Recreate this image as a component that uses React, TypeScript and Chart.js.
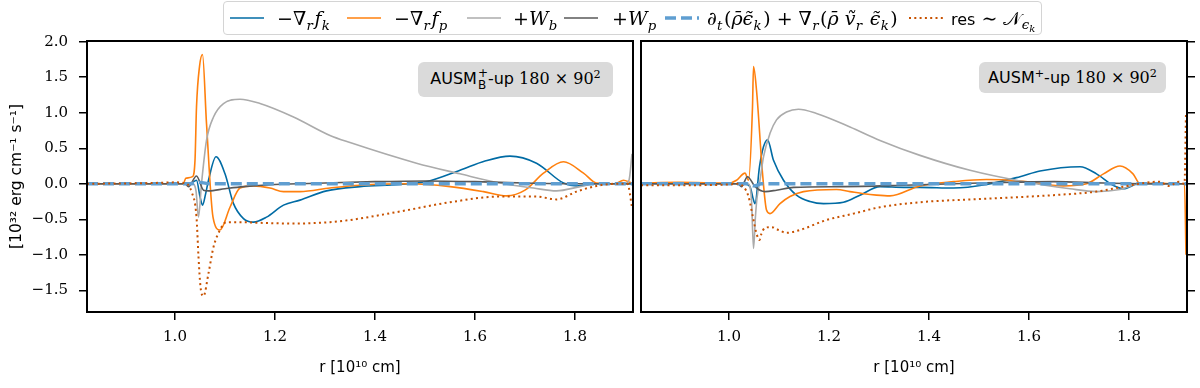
import React, { useEffect, useRef } from "react";
import { Chart, registerables } from "chart.js";

Chart.register(...registerables);

// ---------- axis settings ----------
const xTickValues = [1.0, 1.2, 1.4, 1.6, 1.8];
const yTickValues = [-1.5, -1.0, -0.5, 0.0, 0.5, 1.0, 1.5, 2.0];
const X_MIN = 0.824;
const X_MAX = 1.916;
const Y_MIN = -1.805;
const Y_MAX = 2.01;

// ---------- left panel (AUSM_B^+-up) ----------
const L_fk_r = [0.824, 1.0, 1.03, 1.043, 1.05, 1.055, 1.061, 1.067, 1.082, 1.1, 1.117, 1.137, 1.157, 1.183, 1.217, 1.25, 1.303, 1.37, 1.45, 1.503, 1.57, 1.62, 1.67, 1.723, 1.777, 1.803, 1.843, 1.916];
const L_fk_v = [0, 0, 0.0, 0.05, -0.18, -0.3, -0.15, 0.05, 0.38, 0.14, -0.28, -0.49, -0.54, -0.47, -0.3, -0.23, -0.1, -0.04, -0.01, 0.03, 0.19, 0.32, 0.39, 0.29, 0.01, -0.03, 0.0, 0.0];

const L_fp_r = [0.824, 1.0, 1.016, 1.022, 1.035, 1.04, 1.043, 1.049, 1.055, 1.063, 1.076, 1.09, 1.11, 1.13, 1.157, 1.19, 1.217, 1.25, 1.31, 1.37, 1.47, 1.55, 1.617, 1.663, 1.7, 1.737, 1.777, 1.817, 1.843, 1.88, 1.897, 1.91, 1.916];
const L_fp_v = [0, 0, 0.0, 0.08, 0.1, 0.33, 1.08, 1.65, 1.82, 0.85, -0.47, -0.65, -0.33, -0.06, -0.03, -0.06, -0.11, -0.11, -0.06, -0.02, 0.0, -0.04, -0.11, -0.17, -0.09, 0.15, 0.31, 0.15, 0.01, 0.0, 0.05, 0.02, 0.0];

const L_wb_r = [0.824, 1.0, 1.035, 1.042, 1.047, 1.053, 1.063, 1.077, 1.097, 1.13, 1.17, 1.237, 1.31, 1.35, 1.483, 1.57, 1.65, 1.717, 1.763, 1.81, 1.843, 1.9, 1.908, 1.914];
const L_wb_v = [0, 0, 0, -0.1, -0.47, 0.0, 0.61, 0.94, 1.13, 1.19, 1.13, 0.94, 0.68, 0.58, 0.29, 0.14, 0.01, -0.06, -0.1, -0.04, 0.0, 0.0, 0.05, 0.42];

const L_wp_r = [0.824, 1.0, 1.02, 1.027, 1.043, 1.057, 1.067, 1.1, 1.137, 1.2, 1.3, 1.4, 1.5, 1.6, 1.7, 1.8, 1.916];
const L_wp_v = [0, 0, 0, -0.04, 0.11, -0.09, -0.1, -0.07, -0.04, -0.01, 0.01, 0.03, 0.04, 0.03, 0.01, 0.0, 0.0];

const L_dt_r = [0.824, 1.03, 1.05, 1.07, 1.916];
const L_dt_v = [0, 0, 0.02, 0, 0];

const L_res_r = [0.824, 0.95, 1.0, 1.02, 1.033, 1.043, 1.047, 1.051, 1.057, 1.067, 1.077, 1.09, 1.103, 1.13, 1.17, 1.237, 1.31, 1.35, 1.45, 1.55, 1.65, 1.723, 1.763, 1.803, 1.843, 1.88, 1.905, 1.914];
const L_res_v = [0, 0.01, 0.02, 0.01, -0.11, -0.47, -1.03, -1.45, -1.58, -1.26, -0.89, -0.65, -0.54, -0.54, -0.55, -0.56, -0.54, -0.51, -0.39, -0.26, -0.18, -0.18, -0.22, -0.11, -0.03, 0.0, 0.0, -0.33];

// ---------- right panel (AUSM^+-up) ----------
const R_fk_r = [0.824, 1.0, 1.03, 1.042, 1.049, 1.052, 1.061, 1.069, 1.077, 1.089, 1.109, 1.135, 1.162, 1.189, 1.229, 1.262, 1.302, 1.35, 1.382, 1.449, 1.515, 1.582, 1.622, 1.702, 1.735, 1.768, 1.789, 1.82, 1.916];
const R_fk_v = [0, 0, 0, -0.04, -0.23, -0.28, 0.24, 0.52, 0.62, 0.33, 0.05, -0.16, -0.25, -0.28, -0.26, -0.16, -0.04, -0.05, -0.05, -0.06, -0.01, 0.1, 0.18, 0.24, 0.14, -0.02, -0.07, 0.0, 0.0];

const R_fp_r = [0.824, 0.9, 1.0, 1.015, 1.032, 1.039, 1.047, 1.049, 1.055, 1.067, 1.075, 1.082, 1.102, 1.122, 1.149, 1.215, 1.242, 1.269, 1.295, 1.322, 1.382, 1.45, 1.515, 1.582, 1.669, 1.715, 1.749, 1.782, 1.808, 1.822, 1.85, 1.9, 1.911, 1.914];
const R_fp_v = [0.01, 0.02, 0.01, 0.05, 0.15, 0.05, 1.08, 1.65, 1.32, 0.15, -0.37, -0.42, -0.28, -0.18, -0.11, -0.08, -0.11, -0.14, -0.16, -0.17, -0.03, 0.03, 0.06, 0.04, -0.03, 0.0, 0.14, 0.25, 0.14, 0.0, 0.01, 0.0, 0.0, -1.0];

const R_wb_r = [0.824, 1.0, 1.038, 1.045, 1.049, 1.053, 1.056, 1.062, 1.069, 1.082, 1.095, 1.115, 1.139, 1.175, 1.242, 1.302, 1.382, 1.482, 1.582, 1.682, 1.735, 1.782, 1.822, 1.916];
const R_wb_v = [0, 0, 0, -0.23, -0.91, -0.45, -0.2, 0.05, 0.38, 0.71, 0.9, 1.01, 1.05, 0.99, 0.8, 0.61, 0.4, 0.19, 0.04, -0.07, -0.11, -0.08, 0.0, 0.0];

const R_wp_r = [0.824, 1.0, 1.018, 1.025, 1.037, 1.052, 1.072, 1.095, 1.129, 1.229, 1.35, 1.45, 1.55, 1.65, 1.75, 1.85, 1.916];
const R_wp_v = [0, 0, 0, -0.04, 0.1, -0.04, -0.11, -0.09, -0.05, -0.04, -0.02, 0.0, 0.02, 0.03, 0.01, 0.0, 0.0];

const R_dt_r = [0.824, 1.035, 1.05, 1.065, 1.916];
const R_dt_v = [0, 0, -0.03, 0, 0];

const R_res_r = [0.824, 0.9, 1.0, 1.015, 1.029, 1.039, 1.049, 1.055, 1.061, 1.065, 1.072, 1.085, 1.099, 1.115, 1.142, 1.195, 1.249, 1.302, 1.382, 1.515, 1.649, 1.735, 1.782, 1.82, 1.86, 1.88, 1.9, 1.911, 1.914];
const R_res_v = [-0.02, -0.02, -0.01, 0.0, -0.04, -0.18, -0.51, -0.7, -0.79, -0.7, -0.62, -0.61, -0.65, -0.69, -0.65, -0.51, -0.42, -0.33, -0.26, -0.21, -0.16, -0.11, -0.05, 0.0, 0.03, -0.03, 0.03, 0.0, 1.0];

// ---------- styles ----------
type Key = "fk" | "fp" | "wb" | "wp" | "dt" | "res";
const STYLE: Record<Key, { color: string; width: number; dash: number[] }> = {
  fk: { color: "#006BA4", width: 1.6, dash: [] },
  fp: { color: "#FF800E", width: 1.6, dash: [] },
  wb: { color: "#ABABAB", width: 1.6, dash: [] },
  wp: { color: "#595959", width: 1.6, dash: [] },
  dt: { color: "#5F9ED1", width: 3.4, dash: [11, 5] },
  res: { color: "#C85200", width: 2, dash: [2, 3.3] },
};

type Series = { key: Key; xs: number[]; ys: number[] };

const leftSeries: Series[] = [
  { key: "fk", xs: L_fk_r, ys: L_fk_v },
  { key: "fp", xs: L_fp_r, ys: L_fp_v },
  { key: "wb", xs: L_wb_r, ys: L_wb_v },
  { key: "wp", xs: L_wp_r, ys: L_wp_v },
  { key: "dt", xs: L_dt_r, ys: L_dt_v },
  { key: "res", xs: L_res_r, ys: L_res_v },
];
const rightSeries: Series[] = [
  { key: "fk", xs: R_fk_r, ys: R_fk_v },
  { key: "fp", xs: R_fp_r, ys: R_fp_v },
  { key: "wb", xs: R_wb_r, ys: R_wb_v },
  { key: "wp", xs: R_wp_r, ys: R_wp_v },
  { key: "dt", xs: R_dt_r, ys: R_dt_v },
  { key: "res", xs: R_res_r, ys: R_res_v },
];

const fmtTick = (v: number) => (v < 0 ? "\u2212" + Math.abs(v).toFixed(1) : v.toFixed(1));

const framePlugin = {
  id: "frame",
  afterDatasetsDraw(chart: any) {
    const { ctx, chartArea: a } = chart;
    ctx.save();
    ctx.strokeStyle = "#000";
    ctx.lineWidth = 2;
    ctx.strokeRect(a.left, a.top, a.right - a.left, a.bottom - a.top);
    ctx.restore();
  },
};

function Panel({ side, series, left, width }: { side: "left" | "right"; series: Series[]; left: number; width: number }) {
  const ref = useRef<HTMLCanvasElement>(null);
  useEffect(() => {
    const isLeft = side === "left";
    const tickGrid = {
      display: true,
      drawOnChartArea: false,
      drawTicks: true,
      tickLength: 8,
      color: "#000",
      lineWidth: 1.5,
    };
    const chart = new Chart(ref.current as HTMLCanvasElement, {
      type: "line",
      data: {
        datasets: series.map((s, i) => ({
          data: s.xs.map((x, j) => ({ x, y: s.ys[j] })),
          borderColor: STYLE[s.key].color,
          borderWidth: STYLE[s.key].width,
          borderDash: STYLE[s.key].dash,
          borderCapStyle: "butt",
          borderJoinStyle: "round",
          pointRadius: 0,
          fill: false,
          cubicInterpolationMode: "monotone",
          order: series.length - i,
        })) as any,
      },
      options: {
        responsive: false,
        animation: false,
        events: [],
        layout: { padding: isLeft ? { top: 41, right: 4, left: 0, bottom: 0 } : { top: 41, right: 0, left: 4, bottom: 0 } },
        plugins: { legend: { display: false }, tooltip: { enabled: false }, title: { display: false } },
        scales: {
          x: {
            type: "linear",
            min: X_MIN,
            max: X_MAX,
            afterBuildTicks: (s: any) => {
              s.ticks = xTickValues.map((v) => ({ value: v }));
            },
            afterFit: (s: any) => {
              s.height = 76;
            },
            ticks: {
              autoSkip: false,
              maxRotation: 0,
              padding: 8,
              color: "#000",
              font: { family: "DejaVu Serif", size: 15 },
              callback: (v: any) => fmtTick(Number(v)),
            },
            grid: tickGrid,
            border: { display: true, color: "#000", width: 2 },
            title: {
              display: true,
              text: "r [10\u00b9\u2070 cm]",
              color: "#000",
              font: { family: "DejaVu Sans", size: 15 },
              padding: { top: 0, bottom: 11 },
            },
          },
          y: {
            type: "linear",
            position: isLeft ? "left" : "right",
            min: Y_MIN,
            max: Y_MAX,
            afterBuildTicks: (s: any) => {
              s.ticks = yTickValues.map((v) => ({ value: v }));
            },
            afterFit: (s: any) => {
              s.width = isLeft ? 87 : 13;
            },
            ticks: {
              display: isLeft,
              padding: 11,
              color: "#000",
              font: { family: "DejaVu Serif", size: 15 },
              callback: (v: any) => fmtTick(Number(v)),
            },
            grid: tickGrid,
            border: { display: true, color: "#000", width: 2 },
            title: {
              display: isLeft,
              text: "[10\u00b3\u00b2 erg cm\u207b\u00b9 s\u207b\u00b9]",
              color: "#000",
              font: { family: "DejaVu Sans", size: 15.5 },
              padding: { top: 8, bottom: 0 },
            },
          },
        },
      } as any,
      plugins: [framePlugin],
    });
    return () => chart.destroy();
  }, [side, series]);
  return <canvas ref={ref} width={width} height={388} style={{ position: "absolute", left, top: 0, width, height: 388 }} />;
}

const subStyle: React.CSSProperties = { fontSize: "70%", verticalAlign: "-0.35em", lineHeight: 0, marginRight: "0.12em", marginLeft: "0.02em" };
const supStyle: React.CSSProperties = { fontSize: "70%", verticalAlign: "0.55em", lineHeight: 0 };
const I = ({ children }: { children: React.ReactNode }) => <i>{children}</i>;
const Sub = ({ children }: { children: React.ReactNode }) => <span style={subStyle}>{children}</span>;
const Sup = ({ children }: { children: React.ReactNode }) => <span style={supStyle}>{children}</span>;

function Sample({ k }: { k: Key }) {
  const st = STYLE[k];
  return (
    <svg width={34} height={8} style={{ display: "block" }}>
      <line x1={0} y1={4} x2={34} y2={4} stroke={st.color} strokeWidth={st.width} strokeDasharray={st.dash.length ? st.dash.join(" ") : undefined} />
    </svg>
  );
}

const legendItems: { k: Key; lineX: number; textX: number; label: React.ReactNode }[] = [
  { k: "fk", lineX: 230, textX: 277, label: (<>{"\u2212\u2207"}<Sub><I>r</I></Sub><I>f</I><Sub><I>k</I></Sub></>) },
  { k: "fp", lineX: 347, textX: 394, label: (<>{"\u2212\u2207"}<Sub><I>r</I></Sub><I>f</I><Sub><I>p</I></Sub></>) },
  { k: "wb", lineX: 467, textX: 513, label: (<>+<I>W</I><Sub><I>b</I></Sub></>) },
  { k: "wp", lineX: 564, textX: 612, label: (<>+<I>W</I><Sub><I>p</I></Sub></>) },
  {
    k: "dt",
    lineX: 665,
    textX: 707,
    label: (
      <>
        {"\u2202"}<Sub><I>t</I></Sub>(<I>{"\u03c1\u0304\u03f5\u0303"}</I><Sub><I>k</I></Sub>) + {"\u2207"}<Sub><I>r</I></Sub>(<I>{"\u03c1\u0304"}</I> <I>{"v\u0303"}</I><Sub><I>r</I></Sub> <I>{"\u03f5\u0303"}</I><Sub><I>k</I></Sub>)
      </>
    ),
  },
  {
    k: "res",
    lineX: 909,
    textX: 951,
    label: (
      <>
        <span style={{ fontFamily: "DejaVu Sans", fontSize: 16 }}>res</span> {"\u223c"} {"\ud835\udca9"}
        <Sub><I>{"\u03f5"}</I><span style={{ fontSize: "75%", verticalAlign: "-0.3em" }}><I>k</I></span></Sub>
      </>
    ),
  },
];

function Legend() {
  return (
    <>
      <div style={{ position: "absolute", left: 223, top: 1, width: 817, height: 32, border: "1.5px solid #d4d4d4", borderRadius: 4, background: "#fff" }} />
      {legendItems.map((it) => (
        <React.Fragment key={it.k}>
          <div style={{ position: "absolute", left: it.lineX, top: 14 }}>
            <Sample k={it.k} />
          </div>
          <div style={{ position: "absolute", left: it.textX, top: 1, height: 34, display: "flex", alignItems: "center", fontFamily: "DejaVu Serif", fontSize: 19, color: "#000", whiteSpace: "nowrap" }}>
            <span>{it.label}</span>
          </div>
        </React.Fragment>
      ))}
    </>
  );
}

function Badge({ left, top, width, height, sub }: { left: number; top: number; width: number; height: number; sub: boolean }) {
  return (
    <div
      style={{
        position: "absolute",
        left,
        top,
        width,
        height,
        background: "#dadada",
        borderRadius: 6,
        display: "flex",
        alignItems: "center",
        justifyContent: "center",
        color: "#000",
        whiteSpace: "nowrap",
      }}
    >
      <span style={{ fontFamily: "DejaVu Sans", fontSize: 16 }}>
        AUSM
        {sub ? (
          <span style={{ display: "inline-flex", flexDirection: "column", verticalAlign: "middle", lineHeight: 0.95, fontSize: "75%", marginLeft: 1 }}>
            <span>+</span>
            <span>B</span>
          </span>
        ) : (
          <Sup>+</Sup>
        )}
        -up <span style={{ fontFamily: "DejaVu Serif" }}>180 {"\u00d7"} 90<Sup>2</Sup></span>
      </span>
    </div>
  );
}

export default function App() {
  return (
    <div style={{ position: "fixed", left: 0, top: 0, width: 1200, height: 388, background: "#fff", overflow: "hidden" }}>
      <Panel side="left" series={leftSeries} left={0} width={637} />
      <Panel side="right" series={rightSeries} left={637} width={563} />
      <Legend />
      <Badge left={418} top={62} width={195} height={35} sub={true} />
      <Badge left={979} top={62} width={187} height={31} sub={false} />
    </div>
  );
}
